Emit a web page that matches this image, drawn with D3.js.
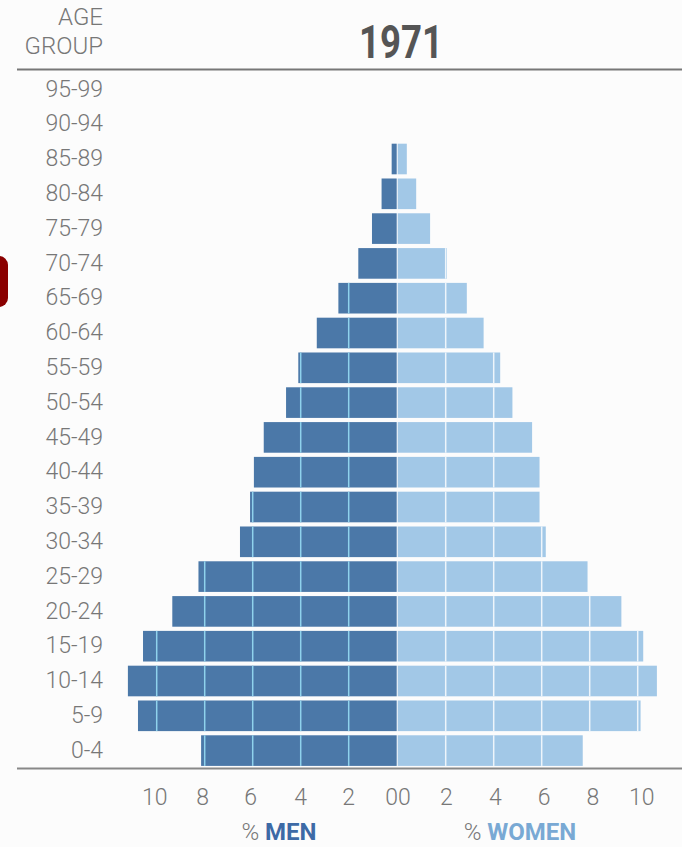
<!DOCTYPE html>
<html>
<head>
<meta charset="utf-8">
<script src="https://cdn.jsdelivr.net/npm/d3@7"></script>
<style>
  html, body { margin: 0; padding: 0; background: #fcfcfc; }
  svg { display: block; }
  text { font-family: Roboto, "Noto Sans", sans-serif; }
</style>
</head>
<body>
<div id="chart"></div>
<script>
// age groups, bottom to top
var ageGroups = ["0-4", "5-9", "10-14", "15-19", "20-24", "25-29", "30-34", "35-39", "40-44", "45-49",
                 "50-54", "55-59", "60-64", "65-69", "70-74", "75-79", "80-84", "85-89", "90-94", "95-99"];
// percent of population
var menPct   = [8.15, 10.78, 11.2, 10.57, 9.35, 8.26, 6.53, 6.11, 5.95, 5.54,
                4.61, 4.1, 3.33, 2.43, 1.6, 1.03, 0.63, 0.21, 0, 0];
var womenPct = [7.71, 10.12, 10.8, 10.23, 9.32, 7.91, 6.17, 5.91, 5.91, 5.6,
                4.78, 4.27, 3.58, 2.88, 2.05, 1.35, 0.77, 0.38, 0, 0];
var tickVals = [0, 2, 4, 6, 8, 10];
var year = "1971";

var width = 682, height = 847;
var menColor = "#4b78a8", womenColor = "#a2c8e7";

var svg = d3.select("#chart").append("svg")
  .attr("width", width)
  .attr("height", height);

// scales
var xMen = d3.scaleLinear().domain([0, 10]).range([396.7, 156.7]);
var xWomen = d3.scaleLinear().domain([0, 10]).range([397.7, 637.7]);
var y = d3.scaleBand()
  .domain(ageGroups.slice().reverse())
  .range([72, 768])
  .paddingInner(0.12)
  .paddingOuter(0.06);

var rows = ageGroups.map(function(a, i) {
  return { age: a, men: menPct[i], women: womenPct[i] };
});

// red marker cut off on the left edge
svg.append("rect")
  .attr("x", -30).attr("y", 256)
  .attr("width", 38).attr("height", 51)
  .attr("rx", 9)
  .attr("fill", "#8a0000");

// header
svg.append("text")
  .attr("x", 103).attr("y", 25)
  .attr("text-anchor", "end")
  .attr("font-size", 24).attr("font-weight", 300)
  .attr("fill", "#777")
  .text("AGE");
svg.append("text")
  .attr("x", 103).attr("y", 54)
  .attr("text-anchor", "end")
  .attr("font-size", 24).attr("font-weight", 300)
  .attr("fill", "#777")
  .text("GROUP");
svg.append("text")
  .attr("x", 401).attr("y", 58)
  .attr("text-anchor", "middle")
  .attr("font-size", 46).attr("font-weight", 700)
  .attr("fill", "#555")
  .attr("textLength", 84).attr("lengthAdjust", "spacingAndGlyphs")
  .text(year);

// rules
svg.append("line")
  .attr("x1", 17).attr("x2", width)
  .attr("y1", 69.5).attr("y2", 69.5)
  .attr("stroke", "#777").attr("stroke-width", 2);
svg.append("line")
  .attr("x1", 17).attr("x2", width)
  .attr("y1", 768.5).attr("y2", 768.5)
  .attr("stroke", "#888").attr("stroke-width", 2);

// age labels
svg.selectAll(".age-label")
  .data(rows)
  .enter().append("text")
  .attr("class", "age-label")
  .attr("x", 103)
  .attr("y", function(d) { return y(d.age) + y.bandwidth() / 2 - 1; })
  .attr("dy", "0.36em")
  .attr("text-anchor", "end")
  .attr("font-size", 23).attr("font-weight", 300)
  .attr("fill", "#777")
  .text(function(d) { return d.age; });

// bars
var row = svg.selectAll(".row")
  .data(rows)
  .enter().append("g")
  .attr("class", "row");

row.filter(function(d) { return d.men > 0; })
  .append("rect")
  .attr("x", function(d) { return xMen(d.men); })
  .attr("y", function(d) { return y(d.age); })
  .attr("width", function(d) { return xMen(0) - xMen(d.men); })
  .attr("height", y.bandwidth())
  .attr("fill", menColor);

row.filter(function(d) { return d.women > 0; })
  .append("rect")
  .attr("x", xWomen(0))
  .attr("y", function(d) { return y(d.age); })
  .attr("width", function(d) { return xWomen(d.women) - xWomen(0); })
  .attr("height", y.bandwidth())
  .attr("fill", womenColor);

// grid lines inside the bars
row.each(function(d) {
  var g = d3.select(this);
  tickVals.forEach(function(t) {
    if (t > 0 && t < d.men) {
      g.append("line")
        .attr("x1", xMen(t)).attr("x2", xMen(t))
        .attr("y1", y(d.age)).attr("y2", y(d.age) + y.bandwidth())
        .attr("stroke", "#8fd2ec").attr("stroke-width", 1.5);
    }
    if (t > 0 && t < d.women) {
      g.append("line")
        .attr("x1", xWomen(t)).attr("x2", xWomen(t))
        .attr("y1", y(d.age)).attr("y2", y(d.age) + y.bandwidth())
        .attr("stroke", "#eef5fb").attr("stroke-width", 1.5);
    }
  });
});

// tick labels
svg.selectAll(".men-tick")
  .data(tickVals)
  .enter().append("text")
  .attr("class", "men-tick")
  .attr("x", function(d) { return d == 0 ? 398 : xMen(d) + (d > 4 ? -2 : 0); })
  .attr("y", 805)
  .attr("text-anchor", function(d) { return d == 0 ? "end" : "middle"; })
  .attr("font-size", 23).attr("font-weight", 300)
  .attr("fill", "#777")
  .text(function(d) { return d; });

svg.selectAll(".women-tick")
  .data(tickVals)
  .enter().append("text")
  .attr("class", "women-tick")
  .attr("x", function(d) { return d == 0 ? 398 : xWomen(d) + d * 0.4; })
  .attr("y", 805)
  .attr("text-anchor", function(d) { return d == 0 ? "start" : "middle"; })
  .attr("font-size", 23).attr("font-weight", 300)
  .attr("fill", "#777")
  .text(function(d) { return d; });

// side titles
var menTitle = svg.append("text")
  .attr("x", 279).attr("y", 840)
  .attr("text-anchor", "middle")
  .attr("font-size", 24);
menTitle.append("tspan").attr("fill", "#777").attr("font-weight", 300).text("% ");
menTitle.append("tspan").attr("fill", "#3d6aa6").attr("font-weight", 700).text("MEN");

var womenTitle = svg.append("text")
  .attr("x", 520).attr("y", 840)
  .attr("text-anchor", "middle")
  .attr("font-size", 24);
womenTitle.append("tspan").attr("fill", "#777").attr("font-weight", 300).text("% ");
womenTitle.append("tspan").attr("fill", "#79a9d4").attr("font-weight", 700).text("WOMEN");
</script>
</body>
</html>
